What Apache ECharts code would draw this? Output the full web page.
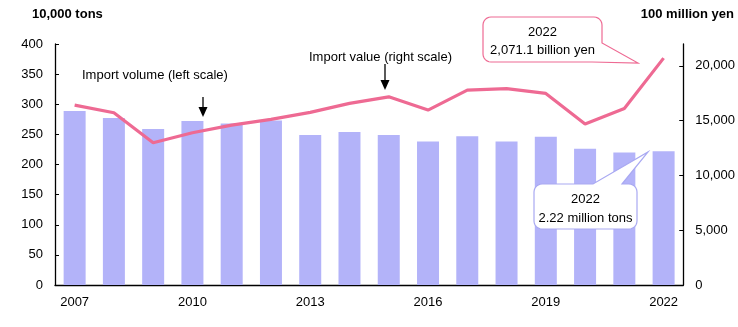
<!DOCTYPE html>
<html><head><meta charset="utf-8">
<script src="https://cdn.jsdelivr.net/npm/echarts@6/dist/echarts.min.js"></script>
<style>html,body{margin:0;padding:0;background:#fff}#c{width:738px;height:327px}</style>
</head><body><div id="c"></div>
<script>
const years = ['2007','2008','2009','2010','2011','2012','2013','2014','2015','2016','2017','2018','2019','2020','2021','2022'];
const importVolume = [289, 277, 259, 272, 268, 273, 249, 254, 249, 238, 247, 238, 246, 226, 220, 222];
const importValue = [16420, 15720, 12980, 13900, 14600, 15120, 15760, 16580, 17180, 15970, 17790, 17920, 17490, 14690, 16120, 20711];
const leftTicks = [0, 50, 100, 150, 200, 250, 300, 350, 400];
const rightTicks = [0, 5000, 10000, 15000, 20000];

const FONT = 'Liberation Sans, Arial, sans-serif';
const chart = echarts.init(document.getElementById('c'), null, {renderer: 'canvas'});
const txt = (x, y, s, opt) => Object.assign({type: 'text', x: x, y: y, z: 11, style: Object.assign({text: s, font: '13px ' + FONT, fill: '#000', verticalAlign: 'middle'}, opt || {})});
function arc(cx, cy, r, a0, a1) {
  const pts = [];
  for (let i = 0; i <= 6; i++) {
    const a = (a0 + (a1 - a0) * i / 6) * Math.PI / 180;
    pts.push([cx + r * Math.cos(a), cy + r * Math.sin(a)]);
  }
  return pts;
}
const r = 8;
// callout 1: box 483..602 x 17..62, tail at bottom-right to (638,63)
const call1 = [].concat(
  arc(483 + r, 17 + r, r, 180, 270),
  arc(602 - r, 17 + r, r, 270, 360),
  [[602, 43], [638, 63], [592, 62]],
  arc(483 + r, 62 - r, r, 90, 180)
);
// callout 2: box 534..637 x 184..229, tail up to (648,152)
const call2 = [].concat(
  arc(534 + r, 184 + r, r, 180, 270),
  [[593, 184], [648, 152], [622, 184]],
  arc(637 - r, 184 + r, r, 270, 360),
  arc(637 - r, 229 - r, r, 0, 90),
  arc(534 + r, 229 - r, r, 90, 180)
);

chart.setOption({
  animation: false,
  grid: {left: 55, right: 54, top: 44, bottom: 42},
  xAxis: {
    type: 'category', data: years,
    axisLine: {lineStyle: {color: '#000', width: 1.3}},
    axisTick: {show: false},
    axisLabel: {interval: 2, color: '#000', fontSize: 13, fontFamily: FONT, margin: 11}
  },
  yAxis: [{
    type: 'value', min: 0, max: 400, interval: 50,
    axisLine: {show: true, lineStyle: {color: '#000', width: 1.3}},
    axisTick: {show: true, inside: true, length: 4, lineStyle: {color: '#000'}},
    splitLine: {show: false},
    axisLabel: {color: '#000', fontSize: 13, fontFamily: FONT, margin: 12}
  }, {
    type: 'value', min: 0, max: 22000, interval: 5000, position: 'right',
    axisLine: {show: true, lineStyle: {color: '#000', width: 1.3}},
    axisTick: {show: true, inside: true, length: 4, lineStyle: {color: '#000'}, customValues: rightTicks},
    splitLine: {show: false},
    axisLabel: {color: '#000', fontSize: 13, fontFamily: FONT, margin: 12, customValues: rightTicks,
      formatter: v => v.toLocaleString('en-US')}
  }],
  series: [{
    type: 'bar', data: importVolume, yAxisIndex: 0, barWidth: 22,
    itemStyle: {color: '#b3b3f9'}, z: 2
  }, {
    type: 'line', data: importValue, yAxisIndex: 1, showSymbol: false, symbol: 'none',
    lineStyle: {color: '#ee6a93', width: 3.2}, z: 3
  }],
  graphic: [
    txt(32, 14, '10,000 tons', {font: 'bold 13px ' + FONT}),
    txt(734, 14, '100 million yen', {font: 'bold 13px ' + FONT, align: 'right'}),
    txt(82, 75, 'Import volume (left scale)'),
    txt(309, 57, 'Import value (right scale)'),
    {type: 'line', shape: {x1: 203, y1: 97, x2: 203, y2: 110}, style: {stroke: '#000', lineWidth: 1.3}},
    {type: 'polygon', shape: {points: [[198.5, 107], [207.5, 107], [203, 117]]}, style: {fill: '#000'}},
    {type: 'line', shape: {x1: 385, y1: 64, x2: 385, y2: 82}, style: {stroke: '#000', lineWidth: 1.3}},
    {type: 'polygon', shape: {points: [[380.5, 80], [389.5, 80], [385, 90]]}, style: {fill: '#000'}},
    {type: 'polygon', z: 10, shape: {points: call1}, style: {fill: '#fff', stroke: '#ee6a93', lineWidth: 1.2}},
    txt(542.5, 32, '2022', {align: 'center'}),
    txt(542.5, 50, '2,071.1 billion yen', {align: 'center'}),
    {type: 'polygon', z: 10, shape: {points: call2}, style: {fill: '#fff', stroke: '#a9a9f2', lineWidth: 1.2}},
    txt(585.5, 199, '2022', {align: 'center'}),
    txt(585.5, 218, '2.22 million tons', {align: 'center'})
  ]
});
</script></body></html>
